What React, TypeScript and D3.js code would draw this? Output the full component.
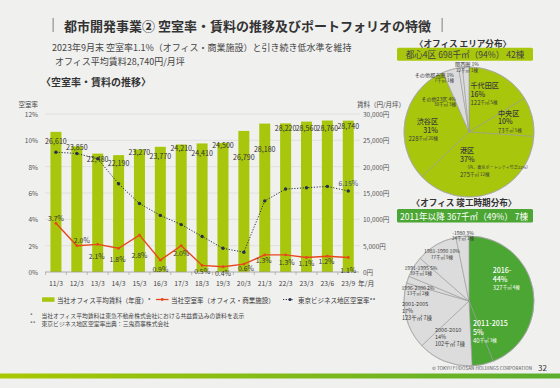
import React from "react";
import * as d3 from "d3";

// ---- chart data ----
const periods = ["11/3", "12/3", "13/3", "14/3", "15/3", "16/3", "17/3", "18/3", "19/3", "20/3", "21/3", "22/3", "23/3", "23/6", "23/9"];
const rent = [26610, 23850, 22480, 22190, 23270, 23770, 24210, 24410, 24500, 26790, 28180, 28220, 28560, 28760, 28740];
const ownVacancy = [3.7, 2.0, 2.1, 1.8, 2.8, 0.9, 2.0, 0.5, 0.4, 0.6, 1.3, 1.3, 1.1, 1.2, 1.1];
const tokyoVacancy = [9.1, 9.0, 8.6, 6.7, 5.2, 4.3, 3.6, 2.7, 1.8, 1.5, 5.4, 6.3, 6.4, 6.5, 6.15];
const rateTicks = [0, 2, 4, 6, 8, 10, 12];
const rentTicks = [0, 5000, 10000, 15000, 20000, 25000, 30000];

// office area distribution
const areaNames = ["千代田区", "中央区", "港区", "渋谷区", "その他23区", "その他都市圏", "関西圏"];
const areaSqm = [122, 73, 275, 228, 30, 7, 12];
const areaPct = [16, 10, 37, 31, 4, 1, 1];
const areaBldg = [5, 5, 12, 20, 3, 1, 1];
const areaCore = [true, true, true, true, false, false, false];
const areaNotes = ["", "", "（内、東京ポートシティ竹芝22%）", "", "", "", ""];

// completion period distribution
const eraNames = ["2016-", "2011-2015", "2006-2010", "2001-2005", "1996-2000", "1991-1995", "1981-1990", "-1980"];
const eraSqm = [327, 40, 102, 123, 13, 39, 77, 24];
const eraPct = [44, 5, 14, 17, 2, 5, 10, 3];
const eraBldg = [4, 3, 7, 7, 2, 8, 9, 1];
const eraRecent = [true, true, false, false, false, false, false, false];

// ---- label placement (layout only) ----
const rentLabelDy = [9, 1, 5, 7.5, 2.5, 9, 4, 10, 2, 26, 25, 5, 6, 7, 5];
const ownLabelShift = [[0, -5], [5, -6], [-1, 12], [-1, 11], [0, 20], [0, 9], [0, 7], [0, 6], [0, 6], [2, 4], [-1, 5], [1, 7], [0, 5], [-1, 4.5], [0, 12]];

type LabelPos = { dx: number; dy: number; anchor: "start" | "middle" | "end"; kind: "big" | "mid" | "small" };
const areaLabelPos: LabelPos[] = [
  { dx: 1.5, dy: -47, anchor: "start", kind: "big" },
  { dx: 29, dy: -19.5, anchor: "start", kind: "big" },
  { dx: -9, dy: 18, anchor: "start", kind: "big" },
  { dx: -31, dy: -11, anchor: "end", kind: "big" },
  { dx: -13, dy: -34, anchor: "end", kind: "small" },
  { dx: -15, dy: -58, anchor: "end", kind: "small" },
  { dx: -2, dy: -68.5, anchor: "middle", kind: "small" },
];
const eraLabelPos: LabelPos[] = [
  { dx: 23.7, dy: -31, anchor: "start", kind: "big" },
  { dx: 4, dy: 22, anchor: "start", kind: "big" },
  { dx: -34, dy: 29, anchor: "start", kind: "mid" },
  { dx: -67, dy: 3.3, anchor: "start", kind: "mid" },
  { dx: -51, dy: -14, anchor: "middle", kind: "small" },
  { dx: -48, dy: -34, anchor: "middle", kind: "small" },
  { dx: -27, dy: -50.3, anchor: "middle", kind: "small" },
  { dx: -6, dy: -69, anchor: "middle", kind: "small" },
];

const W = 560;
const H = 388;
const FONT = "'Noto Sans CJK JP', 'Noto Sans', sans-serif";
const BG = "#f0f0ef";
const LIME = "#a8c70c";
const GREEN = "#4ba633";
const RED = "#e8471e";
const NAVY = "#26304d";
const TXT = "#333";

const x = d3.scaleBand<string>().domain(periods).range([45.5, 358.7]).paddingInner(0.473).paddingOuter(0.2365);
const yRate = d3.scaleLinear().domain([0, 12]).range([272, 114]);
const yRent = d3.scaleLinear().domain([0, 30000]).range([272, 114]);
const cx = (p: string) => (x(p) || 0) + x.bandwidth() / 2;

const fmt = d3.format(",");

function PieBlock({ cxp, cyp, r, values, names, pct, sqm, bldg, highlight, hiColor, layout, hiText, note }: any) {
  const pie = d3.pie<number>().sort(null).value((d) => d);
  const arcs = pie(values);
  const arc = d3.arc<d3.PieArcDatum<number>>().innerRadius(0).outerRadius(r);
  return (
    <g transform={`translate(${cxp},${cyp})`}>
      {arcs.map((a, i) => (
        <path key={i} d={arc(a) || ""} fill={highlight[i] ? hiColor : "#dcdcdc"} stroke="#999" strokeWidth={0.6} />
      ))}
      <circle r={r} fill="none" stroke="#aaa" strokeWidth={0.7} />
      {arcs.map((a, i) => {
        const L: LabelPos = layout[i];
        const col = highlight[i] && hiText ? "#fff" : "#3a3a3a";
        if (L.kind === "small") {
          return (
            <g key={"l" + i} fill={col} textAnchor={L.anchor}>
              <text x={L.dx} y={L.dy} fontSize={5.1} dominantBaseline="central">{`${names[i]} ${pct[i]}%`}</text>
              <text x={L.dx} y={L.dy + 6} fontSize={4.5} dominantBaseline="central">{`${sqm[i]}千㎡ ${bldg[i]}棟`}</text>
            </g>
          );
        }
        if (L.kind === "mid") {
          return (
            <g key={"l" + i} fill={col} textAnchor={L.anchor} fontSize={5.5}>
              <text x={L.dx} y={L.dy} dominantBaseline="central">{names[i]}</text>
              <text x={L.dx} y={L.dy + 6.8} dominantBaseline="central">{`${pct[i]}%`}</text>
              <text x={L.dx} y={L.dy + 13.6} dominantBaseline="central">{`${sqm[i]}千㎡ ${bldg[i]}棟`}</text>
            </g>
          );
        }
        const hasNote = note && note[i];
        return (
          <g key={"l" + i} fill={col} textAnchor={L.anchor}>
            <text x={L.dx} y={L.dy} fontSize={7.1} fontWeight={500} dominantBaseline="central">{names[i]}</text>
            <text x={L.dx} y={L.dy + 8.7} fontSize={7.1} fontWeight={500} dominantBaseline="central">{`${pct[i]}%`}</text>
            {hasNote && (
              <text x={L.dx + 5} y={L.dy + 16.8} fontSize={4.1} dominantBaseline="central">{note[i]}</text>
            )}
            <text x={L.dx} y={L.dy + (hasNote ? 23.6 : 17.2)} dominantBaseline="central">
              <tspan fontSize={6}>{sqm[i]}</tspan>
              <tspan fontSize={4.5}>{`千㎡ ${bldg[i]}棟`}</tspan>
            </text>
          </g>
        );
      })}
    </g>
  );
}

export default function App() {
  const lineGen = d3.line<number>().x((_, i) => cx(periods[i])).y((d) => yRate(d));

  return (
    <svg width={W} height={H} viewBox={`0 0 ${W} ${H}`} style={{ position: "absolute", left: 0, top: 0, background: BG }} fontFamily={FONT}>
      <defs>
        <linearGradient id="footbar" x1="0" x2="1" y1="0" y2="0">
          <stop offset="0" stopColor="#a9c800" />
          <stop offset="1" stopColor="#5aad2f" />
        </linearGradient>
      </defs>
      <rect width={W} height={H} fill={BG} />

      {/* title */}
      <rect x={52.5} y={18} width={1.3} height={14} fill="#999" />
      <text x={64} y={25} fontSize={13} fontWeight={700} fill={TXT} dominantBaseline="central">
        都市開発事業② 空室率・賃料の推移及びポートフォリオの特徴
      </text>
      <rect x={441.5} y={18} width={1.3} height={14} fill="#999" />
      <text x={52} y={47} fontSize={9} fill="#444" dominantBaseline="central">
        2023年9月末 空室率1.1%（オフィス・商業施設）と引き続き低水準を維持
      </text>
      <text x={55} y={61} fontSize={9} fill="#444" dominantBaseline="central">オフィス平均賃料28,740円/月坪</text>
      <text x={41} y={81.5} fontSize={10} fontWeight={700} fill={TXT} dominantBaseline="central">〈空室率・賃料の推移〉</text>

      {/* axis titles */}
      <text x={38} y={103.5} fontSize={6.5} fill="#444" textAnchor="end" dominantBaseline="central">空室率</text>
      <text x={357} y={103.5} fontSize={6.5} fill="#444" dominantBaseline="central">賃料（円/月坪）</text>

      {/* grid + ticks */}
      {rateTicks.map((t) => (
        <g key={t}>
          {t > 0 && <line x1={45} x2={360} y1={yRate(t)} y2={yRate(t)} stroke="#dadada" strokeWidth={0.7} />}
          <text x={38} y={yRate(t)} fontSize={6.5} fill="#555" textAnchor="end" dominantBaseline="central">{`${t}%`}</text>
        </g>
      ))}
      {rentTicks.map((t) => (
        <text key={t} x={363} y={yRent(t)} fontSize={6.5} fill="#555" dominantBaseline="central">{`${fmt(t)}円`}</text>
      ))}

      {/* bars */}
      {rent.map((v, i) => (
        <rect key={i} x={x(periods[i])} y={yRent(v)} width={x.bandwidth()} height={yRent(0) - yRent(v)} fill={LIME} />
      ))}

      {/* x axis */}
      <line x1={45} x2={359} y1={272} y2={272} stroke="#9a9a9a" strokeWidth={0.8} />
      {periods.map((p, i) => (
        <line key={"t" + i} x1={(x(p) || 0) - x.step() * 0.2365} x2={(x(p) || 0) - x.step() * 0.2365} y1={272} y2={275} stroke="#9a9a9a" strokeWidth={0.6} />
      ))}
      {periods.map((p) => (
        <text key={p} x={cx(p)} y={283} fontSize={6.8} fill="#444" textAnchor="middle" dominantBaseline="central">{p}</text>
      ))}
      <text x={358} y={283} fontSize={6.8} fill="#444" dominantBaseline="central">年/月</text>

      {/* Tokyo business district vacancy */}
      <path d={lineGen(tokyoVacancy) || ""} fill="none" stroke={NAVY} strokeWidth={1} strokeDasharray="1.2,1.6" />
      {tokyoVacancy.map((v, i) => (
        <circle key={i} cx={cx(periods[i])} cy={yRate(v)} r={1.7} fill={NAVY} />
      ))}

      {/* own vacancy */}
      <path d={lineGen(ownVacancy) || ""} fill="none" stroke={RED} strokeWidth={1.4} />
      {ownVacancy.map((v, i) => (
        <circle key={i} cx={cx(periods[i])} cy={yRate(v)} r={1.4} fill={RED} />
      ))}

      {/* value labels */}
      {rent.map((v, i) => (
        <text key={"r" + i} x={cx(periods[i])} y={yRent(v) + rentLabelDy[i]} fontSize={7.1} fill={TXT} textAnchor="middle" dominantBaseline="central">
          {fmt(v)}
        </text>
      ))}
      {ownVacancy.map((v, i) => (
        <text key={"o" + i} x={cx(periods[i]) + ownLabelShift[i][0]} y={yRate(v) + ownLabelShift[i][1]} fontSize={6.9} fill={TXT} textAnchor="middle" dominantBaseline="central">
          {`${v.toFixed(1)}%`}
        </text>
      ))}
      <text x={cx(periods[14])} y={yRate(tokyoVacancy[14]) - 8} fontSize={6.9} fill="#3f5277" textAnchor="middle" dominantBaseline="central">
        {`${tokyoVacancy[14].toFixed(2)}%`}
      </text>

      {/* legend */}
      <rect x={42} y={297.3} width={12.5} height={4.5} fill={LIME} />
      <text x={57} y={299.5} fontSize={6.5} fill={TXT} dominantBaseline="central">当社オフィス平均賃料（年度）*</text>
      <line x1={156} x2={168.5} y1={299.5} y2={299.5} stroke={RED} strokeWidth={1.3} />
      <circle cx={162.2} cy={299.5} r={1.4} fill={RED} />
      <text x={171} y={299.5} fontSize={6.5} fill={TXT} dominantBaseline="central">当社空室率（オフィス・商業施設）</text>
      <line x1={283} x2={294} y1={299.5} y2={299.5} stroke={NAVY} strokeWidth={1} strokeDasharray="1.2,1.6" />
      <circle cx={290} cy={299.5} r={1.6} fill={NAVY} />
      <text x={298} y={299.5} fontSize={6.5} fill={TXT} dominantBaseline="central">東京ビジネス地区空室率**</text>

      {/* footnotes */}
      <text x={30} y={315.5} fontSize={5.8} fill="#444" dominantBaseline="central">*</text>
      <text x={41.5} y={315.5} fontSize={5.8} fill="#444" dominantBaseline="central">当社オフィス平均賃料は東急不動産株式会社における共益費込みの賃料を表示</text>
      <text x={30} y={323.5} fontSize={5.8} fill="#444" dominantBaseline="central">**</text>
      <text x={41.5} y={323.5} fontSize={5.8} fill="#444" dominantBaseline="central">東京ビジネス地区空室率出典：三鬼商事株式会社</text>

      {/* area pie */}
      <text x={463} y={42.5} fontSize={8.6} fontWeight={700} fill={TXT} textAnchor="middle" dominantBaseline="central">〈オフィス エリア分布〉</text>
      <rect x={397} y={47.8} width={136} height={13} rx={1.5} fill={LIME} />
      <text x={465} y={54.3} fontSize={8.6} fill="#444" textAnchor="middle" dominantBaseline="central">都心4区 698千㎡（94%） 42棟</text>
      <PieBlock cxp={469} cyp={132} r={65} values={areaSqm} names={areaNames} pct={areaPct} sqm={areaSqm} bldg={areaBldg}
        highlight={areaCore} hiColor={LIME} layout={areaLabelPos} hiText={false} note={areaNotes} />

      {/* completion era pie */}
      <text x={464} y={201.5} fontSize={8.6} fontWeight={700} fill={TXT} textAnchor="middle" dominantBaseline="central">〈オフィス 竣工時期分布〉</text>
      <rect x={397} y={209} width={136} height={13.5} rx={1.5} fill={GREEN} />
      <text x={464} y={215.8} fontSize={8.6} fill="#fff" textAnchor="middle" dominantBaseline="central">2011年以降 367千㎡（49%） 7棟</text>
      <PieBlock cxp={469} cyp={301} r={65} values={eraSqm} names={eraNames} pct={eraPct} sqm={eraSqm} bldg={eraBldg}
        highlight={eraRecent} hiColor={GREEN} layout={eraLabelPos} hiText={true} note={null} />

      {/* footer */}
      <text x={532} y={368} fontSize={4.6} fill="#555" textAnchor="end" dominantBaseline="central" textLength={100} lengthAdjust="spacing">© TOKYU FUDOSAN HOLDINGS CORPORATION</text>
      <text x={538} y={367.5} fontSize={8} fill={TXT} dominantBaseline="central">32</text>
      <rect x={0} y={373.5} width={W} height={5} fill="url(#footbar)" />
    </svg>
  );
}
